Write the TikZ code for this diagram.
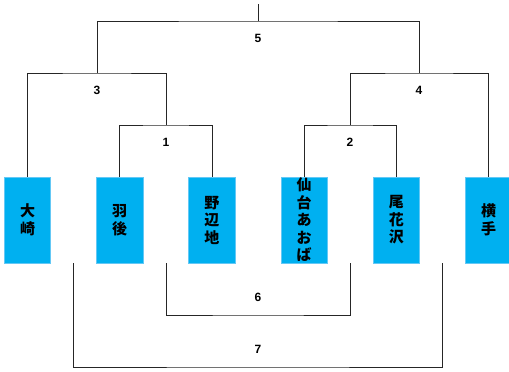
\documentclass[tikz,border=0pt]{standalone}
\usepackage{fontspec}
\setmainfont{Liberation Sans}
\newfontfamily\jpfont{Noto Sans CJK JP}
\usetikzlibrary{positioning, calc}
\definecolor{teamblue}{RGB}{0,176,240}
\definecolor{teamedge}{RGB}{100,200,245}

\begin{document}
\begin{tikzpicture}[x=1pt, y=-1pt,
  team/.style={rectangle, fill=teamblue, draw=teamedge, line width=0.6pt, minimum width=46.5pt, minimum height=86pt, inner sep=0pt},
  teamname/.style={align=center, font=\jpfont\bfseries\fontsize{15}{17.5}\selectfont, inner sep=0pt},
  line/.style={draw=black!85, line width=0.8pt},
  num/.style={font=\bfseries\fontsize{12}{14}\selectfont, inner sep=0pt}]

\useasboundingbox (0,0) rectangle (509,372);

% Draw team boxes
\node[team] (t1) at (27.5,220) {};
\node[team, right=45.1pt of t1] (t2) {};
\node[team, right=45.1pt of t2] (t3) {};
\node[team, right=45.1pt of t3] (t4) {};
\node[team, right=45.1pt of t4] (t5) {};
\node[team, right=45.1pt of t5] (t6) {};

% Write the names in the boxes
\foreach \i/\tn in {1/大\\崎, 2/羽\\後, 3/野\\辺\\地, 4/仙\\台\\あ\\お\\ば, 5/尾\\花\\沢, 6/横\\手} {
    \node[teamname] (n\i) at (t\i) {\tn};
}

% Junctions of the brackets
\coordinate (m1) at (166,125);
\coordinate (m2) at (350,125);
\coordinate (m3) at (97,73);
\coordinate (m4) at (419,73);
\coordinate (m5) at (258,21);
\coordinate (m6) at (258,315);
\coordinate (m7) at (258,367);
\coordinate (top) at (258,4);

% Draw the upper brackets
\draw[line] (t2.north) |- (m1) -| (t3.north);
\draw[line] (t4.north) |- (m2) -| (t5.north);
\draw[line] (t1.north) |- (m3) -| (m1);
\draw[line] (m2) |- (m4) -| (t6.north);
\draw[line] (m3) |- (m5) -| (m4);
\draw[line] (m5) -- (top);

% Draw the lower brackets
\coordinate (g6a) at (m1 |- t1.south);
\coordinate (g6b) at (m2 |- t1.south);
\coordinate (g7a) at ($(t1.south)!.5!(t2.south)$);
\coordinate (g7b) at ($(t5.south)!.5!(t6.south)$);
\draw[line] (g6a) |- (m6) -| (g6b);
\draw[line] (g7a) |- (m7) -| (g7b);

% Match numbers
\foreach \i in {1,...,5} {
    \node[num] (l\i) at ([yshift=-17pt]m\i) {\i};
}
\foreach \i in {6,7} {
    \node[num] (l\i) at ([yshift=18pt]m\i) {\i};
}

\end{tikzpicture}
\end{document}
